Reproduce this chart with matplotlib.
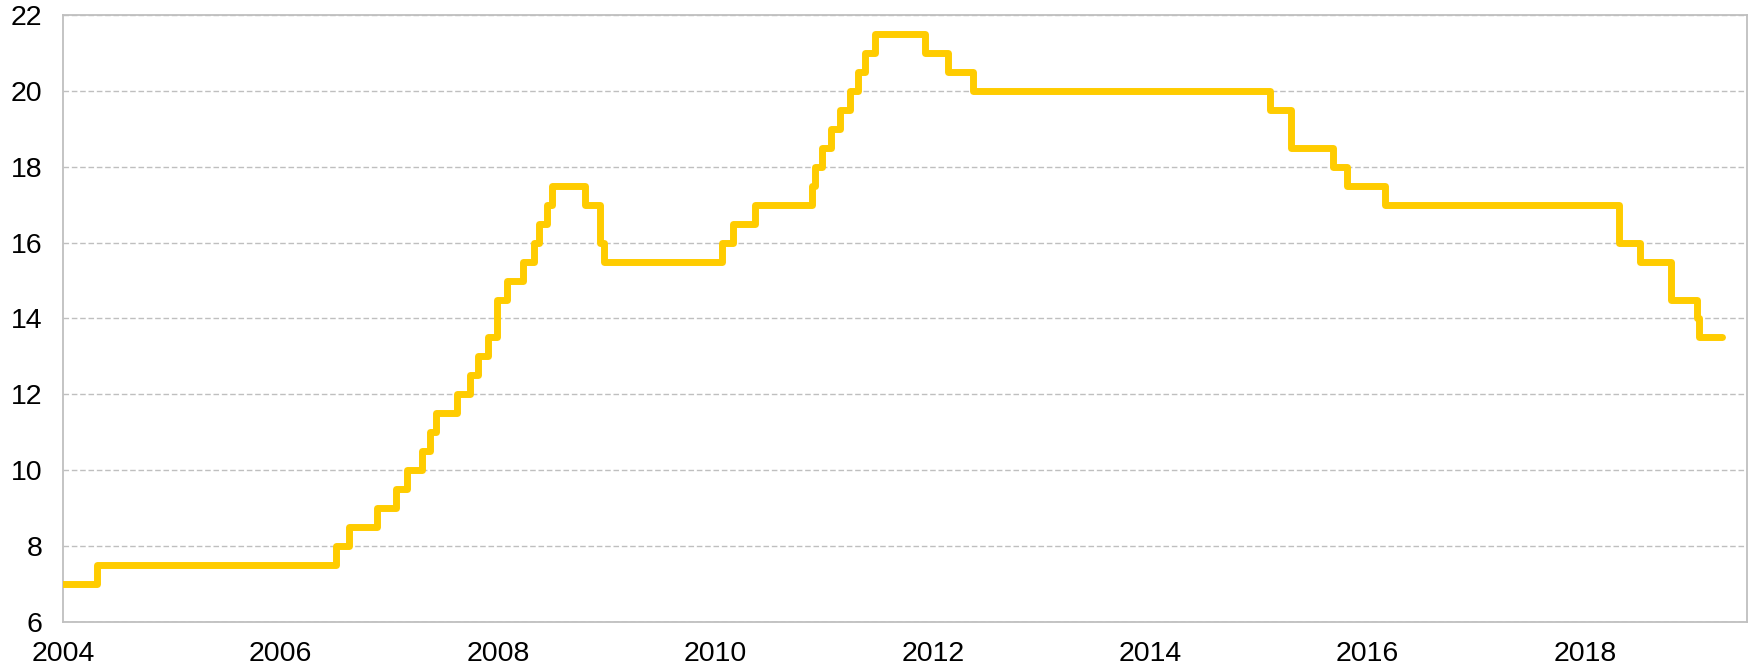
"""Policy rate step chart, 2004-2019."""
import matplotlib

matplotlib.use("Agg")
import matplotlib.pyplot as plt
import numpy as np

# start of each rate level (decimal year) and the rate in force from then on
change_dates = [
    2004.00, 2004.31, 2006.51, 2006.63, 2006.89, 2007.06, 2007.16, 2007.30,
    2007.38, 2007.43, 2007.62, 2007.74, 2007.82, 2007.91, 2007.99, 2008.08,
    2008.23, 2008.33, 2008.38, 2008.45, 2008.50, 2008.80, 2008.94, 2008.98,
    2010.06, 2010.16, 2010.37, 2010.89, 2010.92, 2010.98, 2011.06, 2011.15,
    2011.24, 2011.31, 2011.38, 2011.47, 2011.93, 2012.14, 2012.37, 2015.10,
    2015.30, 2015.68, 2015.81, 2016.16, 2018.31, 2018.51, 2018.79, 2019.03,
    2019.05, 2019.26,
]
rates = [
    7.0, 7.5, 8.0, 8.5, 9.0, 9.5, 10.0, 10.5,
    11.0, 11.5, 12.0, 12.5, 13.0, 13.5, 14.5, 15.0,
    15.5, 16.0, 16.5, 17.0, 17.5, 17.0, 16.0, 15.5,
    16.0, 16.5, 17.0, 17.5, 18.0, 18.5, 19.0, 19.5,
    20.0, 20.5, 21.0, 21.5, 21.0, 20.5, 20.0, 19.5,
    18.5, 18.0, 17.5, 17.0, 16.0, 15.5, 14.5, 14.0,
    13.5, 13.5,
]
year_ticks = [2004, 2006, 2008, 2010, 2012, 2014, 2016, 2018]
rate_ticks = [6, 8, 10, 12, 14, 16, 18, 20, 22]

LINE_COLOR = "#FFCC00"
GRID_COLOR = "#BFBFBF"

plt.rcParams["font.family"] = ["Liberation Sans", "DejaVu Sans"]

fig = plt.figure(figsize=(17.54, 6.67), dpi=100)
ax = fig.add_axes([0.0359, 0.0675, 0.9601, 0.91])

ax.plot(
    np.array(change_dates),
    np.array(rates),
    drawstyle="steps-post",
    color=LINE_COLOR,
    lw=5.0,
    solid_joinstyle="round",
    solid_capstyle="round",
    zorder=3,
)

ax.set_xlim(2004, 2019.49)
ax.set_ylim(6, 22)
ax.set_xticks(year_ticks)
ax.set_xticklabels([str(y) for y in year_ticks])
ax.set_yticks(rate_ticks)
ax.set_yticklabels([str(r) for r in rate_ticks])
ax.tick_params(axis="both", length=0, labelsize=20.5, colors="black")
ax.tick_params(axis="y", pad=15)
ax.tick_params(axis="x", pad=14)

ax.grid(axis="y", color=GRID_COLOR, linestyle=(0, (4, 2)), lw=1.0, zorder=1)
for side in ["left", "right", "top", "bottom"]:
    ax.spines[side].set_color(GRID_COLOR)
    ax.spines[side].set_linewidth(1.3)

fig.savefig("out.png", dpi=100)
plt.close(fig)
